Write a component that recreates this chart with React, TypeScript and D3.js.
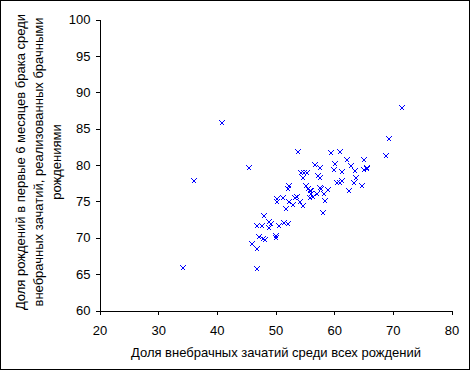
import React, { useRef, useEffect } from 'react';
import * as d3 from 'd3';

// [share of extramarital conceptions, share legitimized by marriage], %
const points: [number, number][] = [
    [40.9, 85.7], [34.3, 65.8], [71.7, 87.7], [69.5, 83.5], [69.0, 81.1],
    [54.0, 81.7], [59.6, 81.6], [61.1, 81.7], [62.2, 80.6], [65.2, 80.6],
    [62.9, 79.8], [60.1, 79.2], [54.9, 78.8], [57.3, 78.4], [63.8, 78.1],
    [63.5, 77.5], [61.1, 77.4], [62.6, 76.3], [64.9, 77.0], [55.2, 77.0],
    [57.7, 76.8], [59.1, 76.5], [58.4, 75.9], [58.6, 75.0], [53.7, 75.6],
    [51.9, 73.9], [54.7, 74.3], [52.4, 74.9], [47.0, 65.7], [46.1, 69.1],
    [47.0, 68.4], [48.2, 72.9], [49.0, 72.1], [51.6, 72.0], [50.4, 74.9],
    [56.5, 75.6],
    [36.2, 77.7], [45.6, 79.5], [60.2, 80.1], [56.9, 80.0], [57.6, 79.5],
    [61.5, 79.0], [63.7, 79.1], [65.2, 79.2], [65.6, 79.5], [65.7, 79.4],
    [54.4, 78.8], [55.4, 78.8], [54.8, 78.2], [57.7, 78.1], [61.4, 77.7],
    [60.6, 77.4], [55.7, 76.7], [56.0, 76.3], [56.1, 76.4], [57.8, 76.6],
    [56.2, 76.0], [57.2, 76.0], [56.0, 75.4], [52.4, 77.1], [52.2, 76.7],
    [53.4, 75.4], [51.4, 75.4], [50.4, 75.3], [53.1, 74.5], [54.3, 74.9],
    [58.1, 73.4], [47.2, 70.1], [48.0, 69.7], [48.3, 69.6], [50.2, 70.2],
    [50.2, 69.9], [47.0, 71.6], [47.7, 71.6], [49.3, 71.8], [48.9, 71.3],
    [50.6, 71.6], [52.3, 71.8]
];

const xTicks = [20, 30, 40, 50, 60, 70, 80];
const yTicks = [60, 65, 70, 75, 80, 85, 90, 95, 100];

const xTitle = 'Доля внебрачных зачатий среди всех рождений';
const yTitleLines = [
    'Доля рождений в первые 6 месяцев брака среди',
    'внебрачных зачатий, реализованных брачными',
    'рождениями'
];

const font = '"Liberation Sans", Arial, sans-serif';

const App = () => {
    const svgRef = useRef<SVGSVGElement>(null);

    const width = 470;
    const height = 370;

    useEffect(() => {
        const svg = d3.select(svgRef.current);
        svg.selectAll('*').remove();

        svg.append('rect')
            .attr('x', 0.5).attr('y', 0.5)
            .attr('width', width - 1).attr('height', height - 1)
            .attr('fill', '#fff')
            .attr('stroke', '#000');

        const x = d3.scaleLinear().domain([20, 80]).range([99, 451]);
        const y = d3.scaleLinear().domain([60, 100]).range([310, 19]);

        const xAxis = d3.axisBottom(x).tickValues(xTicks).tickSize(4).tickSizeOuter(0).tickPadding(11);
        const yAxis = d3.axisLeft(y).tickValues(yTicks).tickSize(4).tickSizeOuter(0).tickPadding(5);

        const gx = svg.append('g')
            .attr('transform', 'translate(0.5,310.5)')
            .call(xAxis);
        const gy = svg.append('g')
            .attr('transform', 'translate(99.5,0.5)')
            .call(yAxis);

        [gx, gy].forEach(g => {
            g.selectAll('path, line').attr('stroke', '#000').attr('shape-rendering', 'crispEdges');
            g.selectAll('text')
                .attr('fill', '#000')
                .attr('font-family', font)
                .attr('font-size', 13);
        });

        const marker = 'M-2,-2L3,3M-2,3L3,-2';

        svg.append('g')
            .selectAll('path')
            .data(points)
            .enter().append('path')
            .attr('transform', d => `translate(${Math.round(x(d[0])) - 0.5},${Math.round(y(d[1])) - 0.5})`)
            .attr('d', marker)
            .attr('fill', 'none')
            .attr('stroke', '#0000ff')
            .attr('stroke-width', 1)
            .attr('shape-rendering', 'crispEdges');

        svg.append('text')
            .attr('x', 276)
            .attr('y', 357)
            .attr('text-anchor', 'middle')
            .attr('font-family', font)
            .attr('font-size', 13)
            .text(xTitle);

        const yt = svg.append('g').attr('transform', 'translate(0,162) rotate(-90)');
        yTitleLines.forEach((line, i) => {
            yt.append('text')
                .attr('x', 0)
                .attr('y', 25 + i * 18)
                .attr('text-anchor', 'middle')
                .attr('font-family', font)
                .attr('font-size', 13)
                .text(line);
        });
    }, []);

    return (
        <svg
            ref={svgRef}
            width={width}
            height={height}
            style={{ position: 'absolute', left: 0, top: 0, background: '#fff' }}
        />
    );
};

export default App;
